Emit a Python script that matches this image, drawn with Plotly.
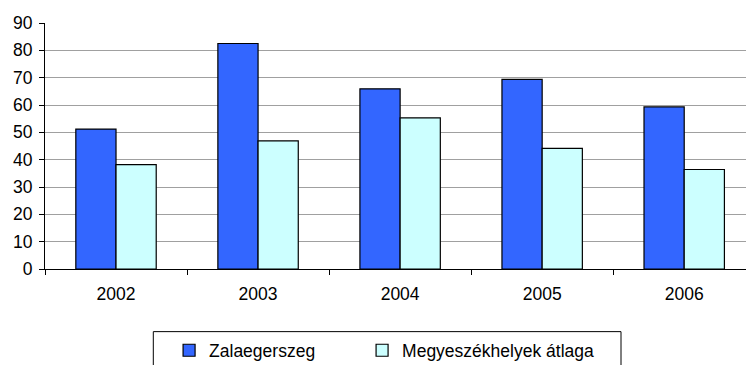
import plotly.graph_objects as go

years = ["2002", "2003", "2004", "2005", "2006"]
zalaegerszeg = [51.2, 82.5, 65.9, 69.4, 59.3]
megyeszekhelyek = [38.2, 46.9, 55.3, 44.1, 36.4]
y_ticks = [0, 10, 20, 30, 40, 50, 60, 70, 80, 90]

FONT = dict(family="Liberation Sans, Arial, sans-serif", size=17.5, color="#000000")

fig = go.Figure()
fig.add_trace(go.Bar(
    x=years, y=zalaegerszeg, name="Zalaegerszeg", legendwidth=148,
    marker=dict(color="#3366FF", line=dict(color="#000000", width=1.2)),
))
fig.add_trace(go.Bar(
    x=years, y=megyeszekhelyek, name="Megyeszékhelyek átlaga", legendwidth=230,
    marker=dict(color="#CCFFFF", line=dict(color="#000000", width=1.2)),
))

# legend frame
fig.add_shape(type="rect", xref="paper", yref="paper",
              x0=0.1545, x1=0.8217, y0=-0.2546, y1=-0.45,
              line=dict(color="#000000", width=1), fillcolor="rgba(0,0,0,0)")

fig.update_layout(
    width=746, height=365,
    margin=dict(l=45, r=0, t=23, b=96, autoexpand=False),
    paper_bgcolor="#ffffff", plot_bgcolor="#ffffff",
    font=FONT,
    barmode="group", bargap=0.434, bargroupgap=0,
    showlegend=True,
    legend=dict(orientation="h", x=0.177, xanchor="left",
                yref="container", y=0.04, yanchor="middle",
                borderwidth=0, bgcolor="rgba(0,0,0,0)",
                font=FONT, traceorder="normal"),
    xaxis=dict(type="category", range=[-0.5, 4.435], showline=True, linecolor="#000000",
               linewidth=1, ticks="outside", tickson="boundaries", ticklen=5,
               tickcolor="#000000", showgrid=False, zeroline=False, fixedrange=True,
               ticklabelstandoff=9),
    yaxis=dict(range=[0, 90], tickvals=y_ticks, showline=True, linecolor="#000000",
               linewidth=1, ticks="outside", ticklen=5, tickcolor="#000000",
               showgrid=True, gridcolor="#a0a0a0", gridwidth=1, zeroline=False,
               fixedrange=True, ticklabelstandoff=3),
)

fig.write_html("out.html")
